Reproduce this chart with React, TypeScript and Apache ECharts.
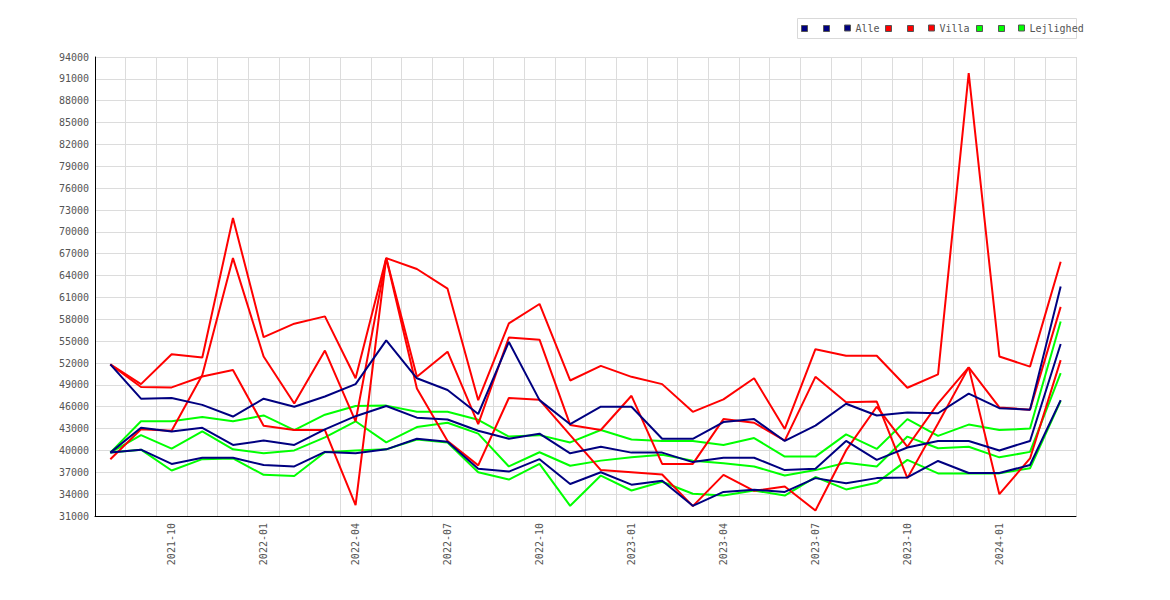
import React, { useEffect, useRef } from 'react';
import * as echarts from 'echarts';

const months = [
  '2021-08', '2021-09', '2021-10', '2021-11', '2021-12',
  '2022-01', '2022-02', '2022-03', '2022-04', '2022-05', '2022-06',
  '2022-07', '2022-08', '2022-09', '2022-10', '2022-11', '2022-12',
  '2023-01', '2023-02', '2023-03', '2023-04', '2023-05', '2023-06',
  '2023-07', '2023-08', '2023-09', '2023-10', '2023-11', '2023-12',
  '2024-01', '2024-02', '2024-03',
];

// Alle (navy)
const alleHigh = [51800, 47100, 47200, 46250, 44650, 47100, 46000, 47400, 49100, 55100, 49900, 48300, 45000, 54900, 46900, 43600, 46000, 46000, 41600, 41600, 43900, 44300, 41300, 43400, 46400, 44800, 45200, 45100, 47800, 45800, 45600, 62500];
const alleMid = [39700, 43100, 42600, 43100, 40750, 41350, 40750, 42900, 44700, 46100, 44500, 44250, 42700, 41600, 42300, 39600, 40500, 39700, 39700, 38400, 39000, 39000, 37300, 37500, 41300, 38700, 40400, 41300, 41300, 40000, 41300, 54600];
const alleLow = [39700, 40100, 38150, 39000, 39000, 38000, 37800, 39800, 39600, 40150, 41600, 41200, 37500, 37100, 38800, 35400, 37000, 35300, 35850, 32400, 34300, 34600, 34300, 36200, 35500, 36200, 36300, 38550, 36900, 36900, 38000, 46900];

// Villa (red)
const villaHigh = [51800, 49100, 53200, 52750, 71900, 55550, 57400, 58400, 49900, 66400, 64900, 62200, 46900, 57450, 60100, 49600, 51600, 50100, 49100, 45300, 47000, 49900, 42950, 53900, 53000, 53000, 48600, 50450, 91800, 52900, 51500, 65900];
const villaMid = [51800, 48700, 48650, 50150, 51050, 43400, 42800, 42800, 32500, 66400, 50100, 53550, 43600, 55500, 55200, 43500, 42800, 47500, 38150, 38150, 44300, 43800, 41350, 50100, 46600, 46700, 36200, 43700, 51400, 45900, 45600, 59700];
const villaLow = [38800, 42900, 42700, 50350, 66400, 52900, 46450, 53700, 44000, 66400, 48500, 41300, 37950, 47200, 46950, 42100, 37300, 37000, 36700, 32350, 36650, 34450, 35050, 31750, 40000, 46000, 40500, 46450, 51400, 34000, 38900, 52400];

// Lejlighed (green)
const lejHigh = [39700, 44000, 44000, 44600, 44000, 44800, 42800, 44900, 46100, 46150, 45300, 45300, 44200, 41900, 42100, 41100, 42800, 41500, 41300, 41300, 40750, 41700, 39150, 39150, 42200, 40200, 44300, 42000, 43550, 42800, 43000, 57700];
const lejMid = [39700, 42100, 40250, 42600, 40150, 39600, 40000, 41800, 44000, 41100, 43200, 43800, 42300, 37800, 39750, 37900, 38600, 39050, 39400, 38600, 38250, 37800, 36550, 37300, 38300, 37800, 41900, 40300, 40500, 39050, 39800, 50600];
const lejLow = [39700, 40100, 37250, 38800, 38900, 36650, 36500, 39750, 40000, 40150, 41500, 41100, 37000, 36000, 38150, 32400, 36550, 34500, 35700, 34050, 33800, 34500, 33800, 36350, 34650, 35550, 38700, 36850, 36850, 36850, 37550, 46800];

const NAVY = '#000080';
const RED = '#ff0000';
const GREEN = '#00ff00';
const FONT = 'DejaVu Sans Mono';

export default function App() {
  const ref = useRef<HTMLDivElement>(null);

  useEffect(() => {
    if (!ref.current) return;
    const chart = echarts.init(ref.current, null, { renderer: 'svg' });

    const mk = (name: string, data: number[], color: string, z: number) => ({
      name,
      type: 'line',
      data,
      symbol: 'none',
      showSymbol: false,
      z,
      lineStyle: { color, width: 2 },
      itemStyle: { color },
      emphasis: { disabled: true },
    });

    const series = [
      mk('Lejlighed_1', lejHigh, GREEN, 2),
      mk('Lejlighed_2', lejLow, GREEN, 2),
      mk('Lejlighed', lejMid, GREEN, 2),
      mk('Villa_1', villaHigh, RED, 3),
      mk('Villa_2', villaLow, RED, 3),
      mk('Villa', villaMid, RED, 3),
      mk('Alle_1', alleHigh, NAVY, 4),
      mk('Alle_2', alleLow, NAVY, 4),
      mk('Alle', alleMid, NAVY, 4),
    ];

    const legendItems = [
      { name: 'Alle_1', left: 801, color: NAVY },
      { name: 'Alle_2', left: 823, color: NAVY },
      { name: 'Alle', left: 844, color: NAVY },
      { name: 'Villa_1', left: 885, color: RED },
      { name: 'Villa_2', left: 907, color: RED },
      { name: 'Villa', left: 928, color: RED },
      { name: 'Lejlighed_1', left: 976, color: GREEN },
      { name: 'Lejlighed_2', left: 998, color: GREEN },
      { name: 'Lejlighed', left: 1018, color: GREEN },
    ];

    const legend = legendItems.map((it) => {
      const named = it.name.indexOf('_') < 0;
      return {
        data: [{ name: it.name, itemStyle: { color: it.color, borderColor: '#555', borderWidth: 1 } }],
        left: it.left,
        top: named ? 22 : 25,
        padding: 0,
        icon: 'rect',
        itemWidth: 6,
        itemHeight: 6,
        selectedMode: false,
        formatter: (n: string) => (n.indexOf('_') >= 0 ? '' : n),
        textStyle: { fontFamily: FONT, fontSize: 10, color: '#555', lineHeight: 12 },
      };
    });

    chart.setOption({
      animation: false,
      backgroundColor: '#ffffff',
      grid: { left: 95, right: 94, top: 57, bottom: 84, containLabel: false, outerBoundsMode: 'none' },
      legend,
      graphic: [
        {
          type: 'rect',
          shape: { x: 797.5, y: 18.5, width: 279, height: 20 },
          style: { fill: 'none', stroke: '#d9d9d9', lineWidth: 1 },
          silent: true,
        },
      ],
      xAxis: {
        type: 'category',
        data: months,
        boundaryGap: true,
        axisLine: { show: true, lineStyle: { color: '#000', width: 1 } },
        axisTick: { show: false },
        axisLabel: {
          interval: (index: number) => index % 3 === 2,
          rotate: 90,
          margin: 7,
          color: '#555',
          fontFamily: FONT,
          fontSize: 10,
        },
        splitLine: { show: true, interval: 0, lineStyle: { color: '#dcdcdc', width: 1 } },
      },
      yAxis: {
        type: 'value',
        min: 31000,
        max: 94000,
        interval: 3000,
        axisLine: { show: true, lineStyle: { color: '#000', width: 1 } },
        axisTick: { show: false },
        axisLabel: {
          margin: 6,
          color: '#555',
          fontFamily: FONT,
          fontSize: 10,
          formatter: (v: number) => String(v),
        },
        splitLine: { show: true, lineStyle: { color: '#dcdcdc', width: 1 } },
      },
      series,
    });

    return () => {
      chart.dispose();
    };
  }, []);

  return (
    <div
      ref={ref}
      style={{ position: 'absolute', left: 0, top: 0, width: 1170, height: 600, background: '#fff' }}
    />
  );
}
